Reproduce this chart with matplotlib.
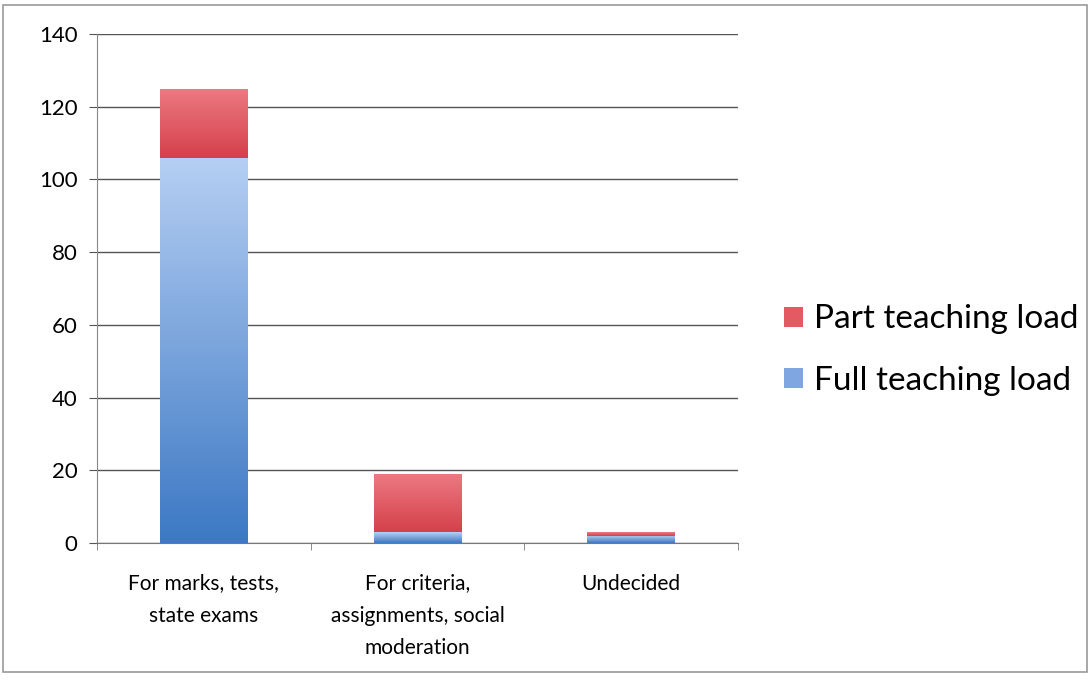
import numpy as np
import matplotlib.pyplot as plt
from matplotlib.colors import LinearSegmentedColormap
from matplotlib.patches import Rectangle

plt.rcParams['font.family'] = ['Lato', 'DejaVu Sans']

categories = ['For marks, tests,\nstate exams', 'For criteria,\nassignments, social\nmoderation', 'Undecided']
full_load = [106, 3, 2]
part_load = [19, 16, 1]

fig = plt.figure(figsize=(10.9, 6.8), dpi=100)
ax = fig.add_axes([0.089, 0.2015, 0.588, 0.7485])

x = np.arange(len(categories))
w = 0.41
blue_cmap = LinearSegmentedColormap.from_list('b', ['#3c78c4', '#b6cff3'])
red_cmap = LinearSegmentedColormap.from_list('r', ['#d5404a', '#ec7a83'])

b1 = ax.bar(x, full_load, w, color='#7fa6e0', label='Full teaching load', zorder=2)
b2 = ax.bar(x, part_load, w, bottom=full_load, color='#e35a63', label='Part teaching load', zorder=2)

# gradient fill inside each bar
grad = np.linspace(0, 1, 256).reshape(-1, 1)
for bars, cmap in [(b1, blue_cmap), (b2, red_cmap)]:
    for p in bars:
        x0, y0 = p.get_x(), p.get_y()
        x1, y1 = x0 + p.get_width(), y0 + p.get_height()
        im = ax.imshow(grad, cmap=cmap, origin='lower', aspect='auto',
                       extent=[x0, x1, y0, y1], zorder=3)
        im.set_clip_path(p)

ax.set_xlim(-0.5, 2.5)
ax.set_ylim(0, 140)
ax.set_yticks(range(0, 141, 20))
ax.yaxis.grid(True, color='#555555', linewidth=1.0, zorder=0)
ax.set_axisbelow(True)
ax.set_xticks(x)
ax.set_xticklabels(categories, fontsize=15, linespacing=1.75)
ax.tick_params(axis='x', length=0, pad=22)
ax.set_xticks([-0.5, 0.5, 1.5, 2.5], minor=True)
ax.tick_params(axis='x', which='minor', length=5, color='#777777', direction='out')
ax.tick_params(axis='y', labelsize=16, length=6, color='#555555', pad=8)
for s in ['top', 'right']:
    ax.spines[s].set_visible(False)
ax.spines['left'].set_color('#888888')
ax.spines['bottom'].set_color('#777777')

h, l = ax.get_legend_handles_labels()
fig.legend(h[::-1], l[::-1], loc='center left', bbox_to_anchor=(0.692, 0.485),
           frameon=False, fontsize=24, handlelength=0.55, handleheight=0.55,
           handletextpad=0.35, labelspacing=0.95)

fig.patches.append(Rectangle((0.003, 0.012), 0.994, 0.98, transform=fig.transFigure,
                             fill=False, edgecolor='#999999', linewidth=1.2))

fig.savefig('out.png', dpi=100)
